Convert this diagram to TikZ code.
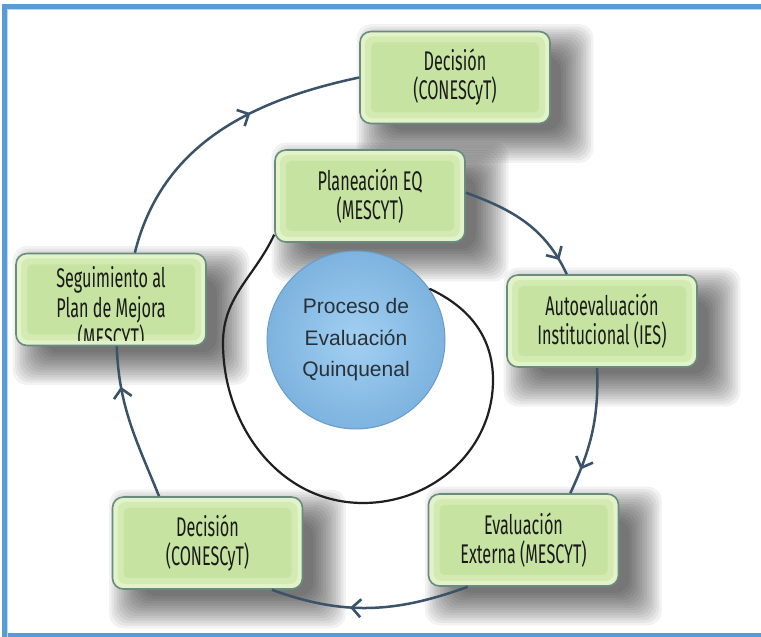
\documentclass[tikz,border=0pt]{standalone}
\usepackage{fontspec}
\newfontfamily\boxfont{Fira Sans}[FakeStretch=0.6]
\newfontfamily\circfont{Liberation Sans}
\usetikzlibrary{arrows.meta,decorations.markings}
\definecolor{frameblue}{HTML}{5B9BD5}
\definecolor{frameinner}{HTML}{BFD8EE}
\definecolor{boxedge}{HTML}{6A8C80}
\definecolor{boxout}{HTML}{E3F3C9}
\definecolor{boxmid}{HTML}{D3EBB2}
\definecolor{boxin}{HTML}{C6E3A1}
\definecolor{txt}{HTML}{1A1A1A}
\definecolor{arccol}{HTML}{3A5368}
\definecolor{spiralcol}{HTML}{1F1F1F}
\definecolor{circin}{HTML}{A2D0F2}
\definecolor{circout}{HTML}{7DB3DF}
\definecolor{circedge}{HTML}{6A9CC9}
\definecolor{circtxt}{HTML}{2A3036}
\pgfdeclarelayer{bg}
\pgfsetlayers{bg,main}
\newcommand\softshadow[1]{%
  \foreach \k [evaluate=\k as \sx using 30-2.5*\k,
               evaluate=\k as \sy using -6-2.5*\k,
               evaluate=\k as \nx using 10+2.5*\k,
               evaluate=\k as \ny using -26+2.5*\k] in {0,...,13}{%
    \fill[black, opacity=0.05, rounded corners=14pt]
      ([shift={(\sx,\sy)}]#1.south west) rectangle ([shift={(\nx,\ny)}]#1.north east);
  }}
\begin{document}
\begin{tikzpicture}[x=1pt,y=1pt,
  gbox/.style={rectangle, rounded corners=11pt, draw=boxedge, line width=1.6pt,
    fill=boxout, minimum width=190pt, minimum height=92pt, align=center,
    inner sep=0pt, text=txt, font={\boxfont\fontsize{27}{29}\selectfont},
    path picture={
      \fill[boxmid, rounded corners=8pt]
        ([shift={(5pt,5pt)}]path picture bounding box.south west) rectangle
        ([shift={(-5pt,-5pt)}]path picture bounding box.north east);
      \fill[boxin, rounded corners=5pt]
        ([shift={(11pt,11pt)}]path picture bounding box.south west) rectangle
        ([shift={(-11pt,-11pt)}]path picture bounding box.north east);
    }},
  boxtext/.style={align=center, inner sep=0pt, text=txt,
    font={\boxfont\fontsize{27}{30}\selectfont}},
  circ/.style={circle, minimum size=178pt, inner sep=0pt, inner color=circin,
    outer color=circout, draw=circedge, line width=1pt, align=center,
    text=circtxt, font={\circfont\fontsize{21}{31.5}\selectfont}},
  arcline/.style={draw=arccol, line width=2.5pt},
  spiral/.style={draw=spiralcol, line width=2.2pt},
  tipat/.style={postaction={decorate, decoration={markings,
    mark=at position #1 with {\arrow[arccol]{Straight Barb[length=9pt,width=18pt,line width=2.6pt]}}}}}
]
\useasboundingbox (0,0) rectangle (761,637);
\begin{pgfonlayer}{bg}
  \fill[white] (0,0) rectangle (761,637);
\end{pgfonlayer}

% boxes
\node[gbox] (dectop) at (455,559.5) {Decisión\\(CONESCyT)};
\node[gbox] (plan) at (370,441) {Planeación EQ\\(MESCYT)};
\node[gbox] (seg) at (111,337.5) {};
\begin{scope}
  \clip ([shift={(4pt,6pt)}]seg.south west) rectangle ([shift={(-4pt,-4pt)}]seg.north east);
  \node[boxtext, anchor=north] (segtxt) at ([yshift=-14pt]seg.north) {Seguimiento al\\Plan de Mejora\\(MESCYT)};
\end{scope}
\node[gbox] (auto) at (602,316) {Autoevaluación\\Institucional (IES)};
\node[gbox] (decbot) at (207.5,94) {Decisión\\(CONESCyT)};
\node[gbox] (ext) at (523.5,97) {Evaluación\\Externa (MESCYT)};

% shadows
\begin{pgfonlayer}{bg}
  \softshadow{dectop}
  \softshadow{plan}
  \softshadow{seg}
  \softshadow{auto}
  \softshadow{decbot}
  \softshadow{ext}
\end{pgfonlayer}

% central circle
\node[circ] (circ) at (356,297) {Proceso de\\Evaluación\\Quinquenal};

% outer cycle
\draw[arcline, tipat=0.88] (plan.2) to[out=-20,in=115] (auto.127);
\draw[arcline, tipat=0.8] (auto.264) to[out=-88,in=65] (ext.45);
\draw[arcline, tipat=0.6] (ext.220) to[out=-160,in=-20] (decbot.-36);
\draw[arcline, tipat=0.74] (decbot.136) to[out=112,in=-88] (seg.-83);
\draw[arcline, tipat=0.62] (seg.63) to[out=76,in=192] (dectop.west);

% inner spiral
\coordinate (sp1) at (223,294);
\coordinate (sp2) at (363,134);
\coordinate (sp3) at (493,257);
\draw[spiral] (plan.202) to[out=245,in=90] (sp1) to[out=-90,in=180] (sp2)
  to[out=0,in=-90] (sp3) to[out=90,in=-25] (circ.35);

% frame
\draw[frameblue, line width=5pt] (4.5,1) rectangle (790,630.5);
\draw[frameinner, line width=1pt] (7.5,-5) -- (7.5,627.5) -- (790,627.5);
\end{tikzpicture}
\end{document}
